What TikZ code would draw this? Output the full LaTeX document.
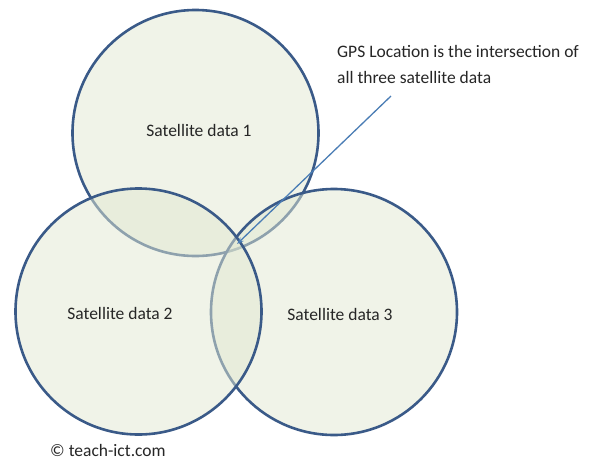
\documentclass[tikz,border=0pt]{standalone}
\usepackage{fontspec}
\setmainfont{Carlito}
\usetikzlibrary{arrows.meta}
\definecolor{ringblue}{HTML}{3A5A88}
\definecolor{ringfill}{HTML}{E2E9D2}
\definecolor{linkblue}{HTML}{4A7DB5}
\definecolor{txt}{HTML}{262626}
\tikzset{
  ring/.style={circle, draw=ringblue, line width=2.6pt, fill=ringfill, fill opacity=0.5, draw opacity=1, minimum size=246pt, inner sep=0pt},
  lbl/.style={text=txt, font=\fontsize{17.5}{26}\selectfont, inner sep=0pt},
  link/.style={draw=linkblue, line width=1.3pt, -{Stealth[length=7pt,width=5pt]}}
}
\begin{document}
\begin{tikzpicture}[x=1pt,y=-1pt]
\useasboundingbox (0,0) rectangle (597,459);
\fill[white] (0,0) rectangle (597,459);
\node[ring] (c1) at (195.5,133) {};
\node[ring] (c3) at (334,312) {};
\node[ring] (c2) at (138.5,311.5) {};
\node[lbl] (t1) at (199,130) {Satellite data 1};
\node[lbl] (t2) at (120,313) {Satellite data 2};
\node[lbl] (t3) at (340,314) {Satellite data 3};
\node[lbl, align=left, anchor=north west] (gps) at (337,45) {GPS Location is the intersection of\\all three satellite data};
\node[lbl, anchor=west] (copy) at (50,450) {© teach-ict.com};
\coordinate (from) at (391,96);
\coordinate (gpspt) at (237,244);
\draw[link] (from) -- (gpspt);
\end{tikzpicture}
\end{document}
